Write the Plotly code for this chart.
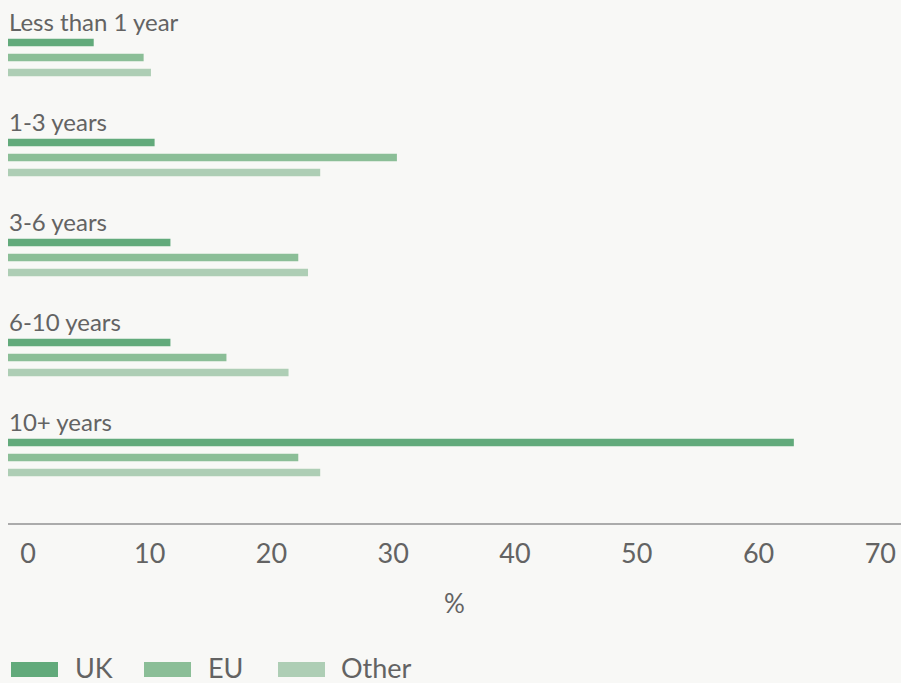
import plotly.graph_objects as go

categories = ["Less than 1 year", "1-3 years", "3-6 years", "6-10 years", "10+ years"]
series_names = ["UK", "EU", "Other"]
uk = [5.4, 10.4, 11.7, 11.7, 62.9]
eu = [9.5, 30.3, 22.2, 16.3, 22.2]
other = [10.1, 24.0, 23.0, 21.4, 24.0]
values = [uk, eu, other]
tick_vals = [0, 10, 20, 30, 40, 50, 60, 70]

colors = ["#62aa7b", "#8bbe97", "#aeceb5"]
BG = "#f8f8f6"
TEXT = "#636363"
FONT = "Lato"

W, H = 901, 683
ML, MR, MT, MB = 8, 0, 0, 160
X_MIN, X_MAX = -1.64, 71.7
plot_w = W - ML - MR
plot_h = H - MT - MB

def px_x(p):
    return (p - ML) / plot_w

def px_y(p):
    return (H - MB - p) / plot_h

ypos = list(range(len(categories)))

fig = go.Figure()
for name, vals, col in zip(series_names, values, colors):
    fig.add_trace(go.Bar(
        y=ypos, x=[v - X_MIN for v in vals], base=X_MIN, orientation="h",
        name=name, marker=dict(color=col, line=dict(width=0)),
        showlegend=False, hoverinfo="skip",
    ))

annotations = []
for i, c in enumerate(categories):
    annotations.append(dict(
        x=px_x(7), xref="paper", xanchor="left",
        y=i - 0.365, yref="y", yanchor="middle",
        text=c, showarrow=False, font=dict(family=FONT, size=24, color=TEXT),
    ))

shapes = []
legend_x = [(11, 75), (144, 208), (278, 341)]
for (sx, tx), name, col in zip(legend_x, series_names, colors):
    shapes.append(dict(type="rect", xref="paper", yref="paper",
                       x0=px_x(sx), x1=px_x(sx + 47), y0=px_y(677), y1=px_y(662),
                       fillcolor=col, line=dict(width=0)))
    annotations.append(dict(
        x=px_x(tx - 2), xref="paper", xanchor="left",
        y=px_y(667), yref="paper", yanchor="middle",
        text=name, showarrow=False, font=dict(family=FONT, size=27, color=TEXT),
    ))

annotations.append(dict(
    x=0.5, xref="paper", xanchor="center", y=px_y(603), yref="paper", yanchor="middle",
    text="%", showarrow=False, font=dict(family=FONT, size=26, color=TEXT),
))

fig.update_layout(
    width=W, height=H,
    margin=dict(l=ML, r=MR, t=MT, b=MB, pad=0),
    paper_bgcolor=BG, plot_bgcolor=BG,
    barmode="group", bargap=0.55, bargroupgap=0.5,
    xaxis=dict(range=[X_MIN, X_MAX], tickvals=tick_vals, ticktext=[str(t) for t in tick_vals],
               showgrid=False, zeroline=False, showline=True, linecolor="#ababab", linewidth=2,
               ticks="outside", ticklen=6, tickcolor="rgba(0,0,0,0)",
               tickfont=dict(family=FONT, size=27, color=TEXT), fixedrange=True),
    yaxis=dict(range=[4.655, -0.575], showticklabels=False, showgrid=False,
               zeroline=False, showline=False, fixedrange=True),
    annotations=annotations, shapes=shapes,
)

fig.write_html("out.html")
